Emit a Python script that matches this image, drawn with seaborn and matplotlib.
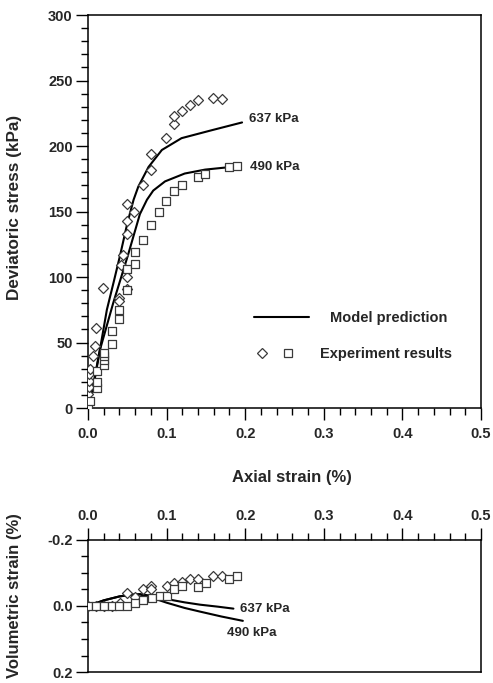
import matplotlib
matplotlib.use("Agg")
import matplotlib.pyplot as plt
from matplotlib.lines import Line2D
from matplotlib.legend_handler import HandlerTuple
from matplotlib.ticker import MultipleLocator, FormatStrFormatter
import seaborn as sns

# --- experiment results, deviatoric stress ---
exp637_strain = [0.0, 0.0, 0.0005, 0.001, 0.001, 0.0015, 0.002, 0.006, 0.009, 0.010,
                 0.0195, 0.040, 0.040, 0.042, 0.044, 0.049, 0.049, 0.050, 0.049, 0.049,
                 0.059, 0.070, 0.080, 0.080, 0.099, 0.109, 0.110, 0.119, 0.130, 0.140,
                 0.159, 0.170]
exp637_stress = [0, 6, 11, 16, 21, 26, 30, 40, 47, 61,
                 92, 84, 82, 109, 117, 91, 100, 133, 143, 156,
                 150, 170, 182, 194, 206, 217, 223, 227, 231, 235,
                 237, 236]

exp490_strain = [0.0, 0.002, 0.011, 0.011, 0.011, 0.020, 0.020, 0.020, 0.020, 0.030,
                 0.030, 0.040, 0.040, 0.049, 0.049, 0.060, 0.060, 0.070, 0.080, 0.090,
                 0.099, 0.109, 0.120, 0.140, 0.149, 0.180, 0.190]
exp490_stress = [0, 5, 15, 20, 28, 33, 37, 40, 42, 49,
                 59, 68, 75, 90, 106, 110, 119, 128, 140, 150,
                 158, 166, 170, 176, 179, 184, 185]

# --- model prediction, deviatoric stress ---
mod637_strain = [0.0, 0.008, 0.015, 0.024, 0.033, 0.041, 0.050, 0.058, 0.064, 0.077,
                 0.094, 0.119, 0.157, 0.196]
mod637_stress = [0, 22, 44, 75, 97, 117, 141, 159, 169, 184,
                 197, 206, 212, 218]
mod490_strain = [0.0, 0.008, 0.015, 0.032, 0.051, 0.066, 0.075, 0.083, 0.098, 0.123,
                 0.149, 0.190]
mod490_stress = [0, 20, 44, 80, 117, 148, 159, 166, 173, 179,
                 182, 184.5]

# --- volumetric strain ---
vexp637_strain = [0.0, 0.010, 0.020, 0.030, 0.041, 0.050, 0.060, 0.070, 0.080, 0.080,
                  0.100, 0.109, 0.120, 0.130, 0.140, 0.159, 0.170]
vexp637_vol = [0.0, 0.0, 0.0, 0.0, -0.008, -0.038, -0.028, -0.050, -0.061, -0.050,
               -0.061, -0.071, -0.074, -0.081, -0.083, -0.091, -0.091]
vexp490_strain = [0.0, 0.010, 0.020, 0.030, 0.040, 0.050, 0.060, 0.070, 0.081, 0.091,
                  0.100, 0.110, 0.120, 0.140, 0.150, 0.180, 0.190]
vexp490_vol = [0.0, 0.0, 0.0, 0.0, 0.0, 0.0, -0.010, -0.018, -0.023, -0.030,
               -0.031, -0.050, -0.061, -0.059, -0.071, -0.081, -0.091]

vmod637_strain = [0.0, 0.020, 0.040, 0.055, 0.066, 0.080, 0.100, 0.123, 0.1425, 0.165, 0.185]
vmod637_vol = [0.0, -0.017, -0.029, -0.034, -0.036, -0.031, -0.021, -0.011, -0.004, 0.002, 0.008]
vmod490_strain = [0.0, 0.020, 0.040, 0.055, 0.066, 0.080, 0.100, 0.123, 0.1425, 0.170, 0.197]
vmod490_vol = [0.0, -0.017, -0.029, -0.034, -0.035, -0.026, -0.010, 0.006, 0.017, 0.032, 0.045]

sns.set_theme(style="ticks")
plt.rcParams["font.family"] = ["Liberation Sans", "DejaVu Sans"]
plt.rcParams["font.weight"] = "bold"
plt.rcParams["axes.labelweight"] = "bold"

LW = 1.5
EDGE = "#3a3a3a"
marker_kw = dict(color="white", edgecolor=EDGE, linewidth=0.9, zorder=3, legend=False)

fig = plt.figure(figsize=(4.93, 6.83), dpi=100)
ax1 = fig.add_axes([0.1785, 0.4026, 0.7972, 0.5754])
ax2 = fig.add_axes([0.1785, 0.0161, 0.7972, 0.1933])

# ---------------- top: deviatoric stress ----------------
sns.lineplot(x=mod637_strain, y=mod637_stress, ax=ax1, color="black", lw=LW, estimator=None, sort=False)
sns.lineplot(x=mod490_strain, y=mod490_stress, ax=ax1, color="black", lw=LW, estimator=None, sort=False)
sns.scatterplot(x=exp637_strain, y=exp637_stress, ax=ax1, marker="D", s=26, **marker_kw)
sns.scatterplot(x=exp490_strain, y=exp490_stress, ax=ax1, marker="s", s=28, **marker_kw)

ax1.set_xlim(0, 0.5)
ax1.set_ylim(0, 300)
ax1.xaxis.set_major_locator(MultipleLocator(0.1))
ax1.xaxis.set_minor_locator(MultipleLocator(0.02))
ax1.xaxis.set_major_formatter(FormatStrFormatter("%.1f"))
ax1.yaxis.set_major_locator(MultipleLocator(50))
ax1.yaxis.set_minor_locator(MultipleLocator(10))
ax1.set_xlabel("Axial strain (%)", fontsize=12, fontweight="bold")
ax1.set_ylabel("Deviatoric stress (kPa)", fontsize=12.3, fontweight="bold")
ax1.xaxis.set_label_coords(0.52, -0.158)
ax1.yaxis.set_label_coords(-0.168, 0.51)

ax1.text(0.205, 221, "637 kPa", fontsize=9.5, fontweight="bold", va="center", ha="left")
ax1.text(0.206, 184, "490 kPa", fontsize=9.5, fontweight="bold", va="center", ha="left")

leg_font = dict(size=10.5, weight="bold")
leg1 = ax1.legend(handles=[Line2D([], [], color="black", lw=LW)], labels=["Model prediction"],
                  loc="center left", bbox_to_anchor=(0.4224, 0.229), frameon=False,
                  handlelength=3.8, handletextpad=1.4, borderpad=0, borderaxespad=0, prop=leg_font)
ax1.add_artist(leg1)
h_d = Line2D([], [], ls="none", marker="D", markersize=5.1, mfc="white", mec=EDGE, mew=0.9)
h_s = Line2D([], [], ls="none", marker="s", markersize=5.3, mfc="white", mec=EDGE, mew=0.9)
ax1.legend(handles=[(h_d, h_s)], labels=["Experiment results"],
           handler_map={tuple: HandlerTuple(ndivide=None, pad=0.69)},
           loc="center left", bbox_to_anchor=(0.4224, 0.137), frameon=False,
           handlelength=2.88, handletextpad=1.65, borderpad=0, borderaxespad=0, prop=leg_font)

# ---------------- bottom: volumetric strain ----------------
sns.lineplot(x=vmod637_strain, y=vmod637_vol, ax=ax2, color="black", lw=LW, estimator=None, sort=False)
sns.lineplot(x=vmod490_strain, y=vmod490_vol, ax=ax2, color="black", lw=LW, estimator=None, sort=False)
sns.scatterplot(x=vexp637_strain, y=vexp637_vol, ax=ax2, marker="D", s=26, **marker_kw)
sns.scatterplot(x=vexp490_strain, y=vexp490_vol, ax=ax2, marker="s", s=28, **marker_kw)

ax2.set_xlim(0, 0.5)
ax2.set_ylim(0.2, -0.2)
ax2.xaxis.set_major_locator(MultipleLocator(0.1))
ax2.xaxis.set_minor_locator(MultipleLocator(0.02))
ax2.xaxis.set_major_formatter(FormatStrFormatter("%.1f"))
ax2.yaxis.set_major_locator(MultipleLocator(0.2))
ax2.yaxis.set_minor_locator(MultipleLocator(0.05))
ax2.yaxis.set_major_formatter(FormatStrFormatter("%.1f"))
ax2.xaxis.tick_top()
ax2.set_xlabel("")
ax2.set_ylabel("Volumetric strain (%)", fontsize=12, fontweight="bold")
ax2.yaxis.set_label_coords(-0.168, 0.576)

ax2.text(0.194, 0.009, "637 kPa", fontsize=9.5, fontweight="bold", va="center", ha="left")
ax2.text(0.177, 0.082, "490 kPa", fontsize=9.5, fontweight="bold", va="center", ha="left")

for ax in (ax1, ax2):
    for sp in ax.spines.values():
        sp.set_visible(True)
        sp.set_linewidth(1.1)
        sp.set_color("black")
    ax.tick_params(which="major", direction="out", length=8.5, width=1, color="black",
                   labelsize=10.5, pad=2.5)
    ax.tick_params(which="minor", direction="out", length=5, width=1, color="black")
    for lab in ax.get_xticklabels() + ax.get_yticklabels():
        lab.set_fontweight("bold")
ax1.tick_params(axis="x", which="major", pad=5)
ax2.tick_params(axis="x", which="major", pad=4)

fig.savefig("out.png", dpi=100)
